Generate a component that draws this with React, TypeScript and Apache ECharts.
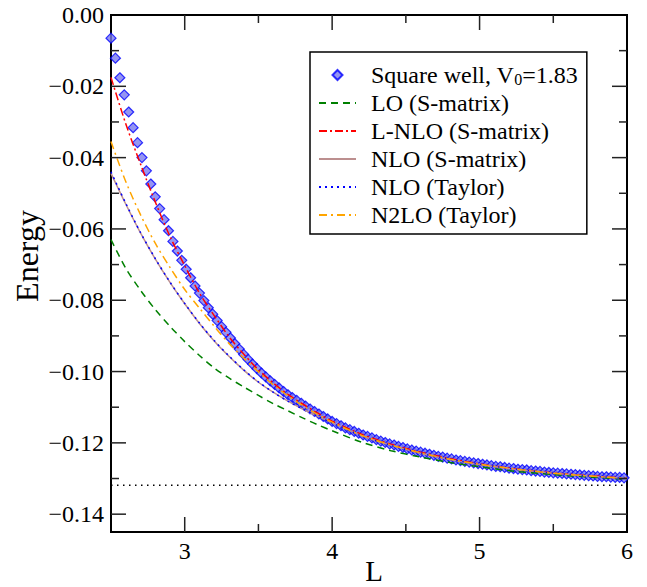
import React, { useEffect, useRef } from "react";
import * as echarts from "echarts";

// ---- data ----
const L_SQ = [
  2.5, 2.53, 2.56, 2.59, 2.62, 2.65, 2.68, 2.71, 2.74, 2.77, 2.8, 2.83, 2.86, 2.89, 2.92, 2.95, 2.98,
  3.01, 3.04, 3.07, 3.1, 3.13, 3.16, 3.19, 3.22, 3.25, 3.28, 3.31, 3.34, 3.37, 3.4, 3.43, 3.46, 3.49,
  3.52, 3.55, 3.58, 3.61, 3.64, 3.67, 3.7, 3.73, 3.76, 3.79, 3.82, 3.85, 3.88, 3.91, 3.94, 3.97, 4.0,
  4.03, 4.06, 4.09, 4.12, 4.15, 4.18, 4.21, 4.24, 4.27, 4.3, 4.33, 4.36, 4.39, 4.42, 4.45, 4.48, 4.51,
  4.54, 4.57, 4.6, 4.63, 4.66, 4.69, 4.72, 4.75, 4.78, 4.81, 4.84, 4.87, 4.9, 4.93, 4.96, 4.99, 5.02,
  5.05, 5.08, 5.11, 5.14, 5.17, 5.2, 5.23, 5.26, 5.29, 5.32, 5.35, 5.38, 5.41, 5.44, 5.47, 5.5, 5.53,
  5.56, 5.59, 5.62, 5.65, 5.68, 5.71, 5.74, 5.77, 5.8, 5.83, 5.86, 5.89, 5.92, 5.95, 5.98,
];
const E_SQ = [
  -0.0065, -0.0121, -0.0176, -0.0224, -0.0272, -0.0316, -0.0358, -0.04, -0.0437, -0.0474, -0.051,
  -0.0543, -0.0574, -0.0605, -0.0635, -0.0662, -0.0688, -0.0713, -0.0737, -0.076, -0.078, -0.0801,
  -0.0821, -0.0839, -0.0857, -0.0874, -0.089, -0.0906, -0.0922, -0.0937, -0.0952, -0.0966, -0.0979,
  -0.0992, -0.1004, -0.1015, -0.1026, -0.1036, -0.1046, -0.1056, -0.1065, -0.1073, -0.1081, -0.1089,
  -0.1097, -0.1105, -0.1112, -0.1119, -0.1126, -0.1133, -0.114, -0.1146, -0.1152, -0.1158, -0.1163,
  -0.1168, -0.1173, -0.1178, -0.1182, -0.1186, -0.1191, -0.1195, -0.1199, -0.1203, -0.1206, -0.121,
  -0.1213, -0.1217, -0.122, -0.1223, -0.1226, -0.1229, -0.1232, -0.1235, -0.1238, -0.124, -0.1243,
  -0.1245, -0.1248, -0.125, -0.1252, -0.1254, -0.1256, -0.1258, -0.126, -0.1262, -0.1264, -0.1266,
  -0.1267, -0.1269, -0.1271, -0.1272, -0.1274, -0.1275, -0.1276, -0.1278, -0.1279, -0.128, -0.1282,
  -0.1283, -0.1284, -0.1285, -0.1286, -0.1287, -0.1288, -0.1289, -0.129, -0.1291, -0.1292, -0.1293,
  -0.1294, -0.1295, -0.1295, -0.1296, -0.1297, -0.1297, -0.1298,
];

const L_LINE = [
  2.5, 2.6, 2.7, 2.8, 2.9, 3.0, 3.1, 3.2, 3.3, 3.4, 3.5, 3.6, 3.7, 3.8, 3.9, 4.0, 4.2, 4.4, 4.6, 4.8,
  5.0, 5.25, 5.5, 5.75, 6.0,
];
const E_LO = [
  -0.063, -0.071, -0.0772, -0.0826, -0.0873, -0.0916, -0.0955, -0.099, -0.1018, -0.1043, -0.1067,
  -0.109, -0.111, -0.113, -0.1149, -0.1166, -0.1198, -0.1222, -0.124, -0.1255, -0.1267, -0.128,
  -0.1289, -0.1296, -0.1302,
];
const E_LNLO = [
  -0.0175, -0.0305, -0.0418, -0.0524, -0.0621, -0.0703, -0.078, -0.0843, -0.0902, -0.0951, -0.0995,
  -0.1032, -0.1064, -0.1091, -0.1116, -0.1139, -0.1176, -0.1204, -0.1226, -0.1244, -0.1259, -0.1273,
  -0.1284, -0.1292, -0.1299,
];
const E_NLO_S = [
  -0.0444, -0.053, -0.0611, -0.0684, -0.075, -0.081, -0.0865, -0.0914, -0.0957, -0.0996, -0.103,
  -0.1058, -0.1083, -0.1105, -0.1125, -0.1144, -0.118, -0.1207, -0.1229, -0.1247, -0.1261, -0.1275,
  -0.1285, -0.1293, -0.13,
];
const E_NLO_T = [
  -0.044, -0.0528, -0.061, -0.0683, -0.0749, -0.0809, -0.0864, -0.0913, -0.0956, -0.0995, -0.1029,
  -0.1058, -0.1083, -0.1105, -0.1125, -0.1144, -0.118, -0.1207, -0.1229, -0.1246, -0.126, -0.1274,
  -0.1285, -0.1293, -0.13,
];
const E_N2LO = [
  -0.0355, -0.0467, -0.056, -0.064, -0.0708, -0.077, -0.0822, -0.0873, -0.0921, -0.0962, -0.1001,
  -0.1037, -0.1068, -0.1095, -0.112, -0.1142, -0.1179, -0.1206, -0.1228, -0.1246, -0.126, -0.1274,
  -0.1285, -0.1293, -0.13,
];
const E_INF = -0.1319;

const NAMES = [
  "Square well, V0=1.83",
  "LO (S-matrix)",
  "L-NLO (S-matrix)",
  "NLO (S-matrix)",
  "NLO (Taylor)",
  "N2LO (Taylor)",
];

const L_MIN = 2.5;
const L_MAX = 6;
const L_GRID = 0.5;
const E_MIN = -0.145;
const E_MAX = 0;
const E_GRID = 0.005;
const E_LABEL_STEP = 0.02;
const X_MAJOR = [3, 4, 5];
const X_MINOR = [3.5, 4.5, 5.5];
const Y_MAJOR = [-0.14, -0.12, -0.1, -0.08, -0.06, -0.04, -0.02];
const Y_MINOR = [-0.13, -0.11, -0.09, -0.07, -0.05, -0.03, -0.01];

const FONT = "Liberation Serif";

// layout
const W = 647;
const H = 587;
const G_LEFT = 111;
const G_TOP = 15;
const G_RIGHT = 20;
const G_BOTTOM = 55;
const MAJOR_LEN = 15;
const MINOR_LEN = 8;

const zip = (xs: number[], ys: number[]) => xs.map((x, i) => [x, ys[i]]);

export default function App() {
  const ref = useRef<HTMLDivElement>(null);
  useEffect(() => {
    if (!ref.current) return;
    const chart = echarts.init(ref.current, undefined, { renderer: "svg" });
    const labelBase = { fontFamily: FONT, fontSize: 24, color: "#000", margin: 7 };

    const lineSeries = (name: string, ys: number[], color: string, type: any, width = 1.5) => ({
      name,
      type: "line",
      data: zip(L_LINE, ys),
      smooth: 0.3,
      symbol: "none",
      showSymbol: false,
      lineStyle: { color, width, type },
      itemStyle: { color },
      z: 3,
    });

    // inward ticks as short two-point line series; pixel lengths turned into data units
    const plotW = W - G_LEFT - G_RIGHT;
    const plotH = H - G_TOP - G_BOTTOM;
    const dataPerPxX = (L_MAX - L_MIN) / plotW;
    const dataPerPxY = (E_MAX - E_MIN) / plotH;
    const tickSeries: any[] = [];
    const seg = (a: number[], b: number[]) =>
      tickSeries.push({
        name: "tick",
        type: "line",
        data: [a, b],
        symbol: "none",
        showSymbol: false,
        clip: false,
        silent: true,
        lineStyle: { color: "#222", width: 1.5, type: "solid" },
        z: 5,
      });
    const addX = (vals: number[], len: number) =>
      vals.forEach((v) => {
        seg([v, E_MIN], [v, E_MIN + len * dataPerPxY]);
        seg([v, E_MAX], [v, E_MAX - len * dataPerPxY]);
      });
    const addY = (vals: number[], len: number) =>
      vals.forEach((v) => {
        seg([L_MIN, v], [L_MIN + len * dataPerPxX, v]);
        seg([L_MAX, v], [L_MAX - len * dataPerPxX, v]);
      });
    addX(X_MAJOR, MAJOR_LEN);
    addX(X_MINOR, MINOR_LEN);
    addY(Y_MAJOR, MAJOR_LEN);
    addY(Y_MINOR, MINOR_LEN);

    const hiddenSym = { color: "rgba(0,0,0,0)", borderColor: "rgba(0,0,0,0)", borderWidth: 0, opacity: 0 };

    chart.setOption({
      animation: false,
      grid: {
        left: G_LEFT, top: G_TOP, right: G_RIGHT, bottom: G_BOTTOM,
        show: true, borderColor: "#000", borderWidth: 2, backgroundColor: "transparent",
      },
      xAxis: {
        type: "value", min: L_MIN, max: L_MAX, interval: L_GRID,
        axisLine: { show: true, onZero: false, lineStyle: { color: "#000", width: 2 } },
        axisTick: { show: false },
        axisLabel: {
          ...labelBase,
          showMinLabel: true,
          showMaxLabel: true,
          formatter: (v: number) => (Math.abs(v - Math.round(v)) < 1e-6 ? String(Math.round(v)) : ""),
        },
        splitLine: { show: false },
      },
      yAxis: {
        type: "value", min: E_MIN, max: E_MAX, interval: E_GRID,
        axisLine: { show: true, onZero: false, lineStyle: { color: "#000", width: 2 } },
        axisTick: { show: false },
        axisLabel: {
          ...labelBase,
          showMinLabel: true,
          showMaxLabel: true,
          formatter: (v: number) => {
            const k = Math.round(v / E_LABEL_STEP);
            if (Math.abs(v - k * E_LABEL_STEP) > 1e-6) return "";
            return k === 0 ? "0.00" : "\u2212" + Math.abs(k * E_LABEL_STEP).toFixed(2);
          },
        },
        splitLine: { show: false },
      },
      legend: {
        data: [
          { name: NAMES[0], icon: "path://M5,0L10,5L5,10L0,5Z" },
          ...NAMES.slice(1).map((n) => ({ name: n, itemStyle: hiddenSym })),
        ],
        orient: "vertical",
        left: 310,
        top: 52,
        padding: [7, 9, 7, 8],
        itemGap: 4,
        itemWidth: 37,
        itemHeight: 10,
        symbolKeepAspect: true,
        borderColor: "#000",
        borderWidth: 1.5,
        backgroundColor: "#fff",
        selectedMode: false,
        formatter: (name: string) =>
          name === NAMES[0] ? "Square well, V{sub|0}=1.83" : name,
        textStyle: {
          fontFamily: FONT,
          fontSize: 24,
          lineHeight: 24,
          color: "#000",
          padding: [0, 0, 0, 10],
          rich: {
            sub: { fontFamily: FONT, fontSize: 16, lineHeight: 16, verticalAlign: "bottom", padding: [12, 0, 0, 0] },
          },
        },
      },
      graphic: [
        {
          type: "text",
          x: 374,
          y: 571,
          style: { text: "L", font: `29px "${FONT}"`, fill: "#000", textAlign: "center", textVerticalAlign: "middle" },
        },
        {
          type: "text",
          x: 27,
          y: 256,
          rotation: Math.PI / 2,
          style: { text: "Energy", font: `32px "${FONT}"`, fill: "#000", textAlign: "center", textVerticalAlign: "middle" },
        },
      ],
      series: [
        {
          name: NAMES[0],
          type: "scatter",
          data: zip(L_SQ, E_SQ),
          symbol: "diamond",
          symbolSize: 10,
          clip: false,
          itemStyle: { color: "#7b7bef", borderColor: "#0000ff", borderWidth: 1.2 },
          z: 2,
        },
        {
          name: "asymptote",
          type: "line",
          data: [
            [L_MIN, E_INF],
            [L_MAX, E_INF],
          ],
          symbol: "none",
          lineStyle: { color: "#000", width: 1.5, type: [1.5, 4.5] },
          z: 3,
        },
        lineSeries(NAMES[1], E_LO, "#008000", [7, 5]),
        lineSeries(NAMES[2], E_LNLO, "#ff0000", [8, 3, 2, 3]),
        lineSeries(NAMES[3], E_NLO_S, "#bc8f8f", "solid"),
        lineSeries(NAMES[4], E_NLO_T, "#0000ff", [2, 4]),
        lineSeries(NAMES[5], E_N2LO, "#ffa500", [8, 4, 2, 4]),
        ...tickSeries,
      ],
    });

    return () => chart.dispose();
  }, []);
  return (
    <div
      ref={ref}
      style={{ position: "fixed", left: 0, top: 0, width: W, height: H, background: "#fff" }}
    />
  );
}
